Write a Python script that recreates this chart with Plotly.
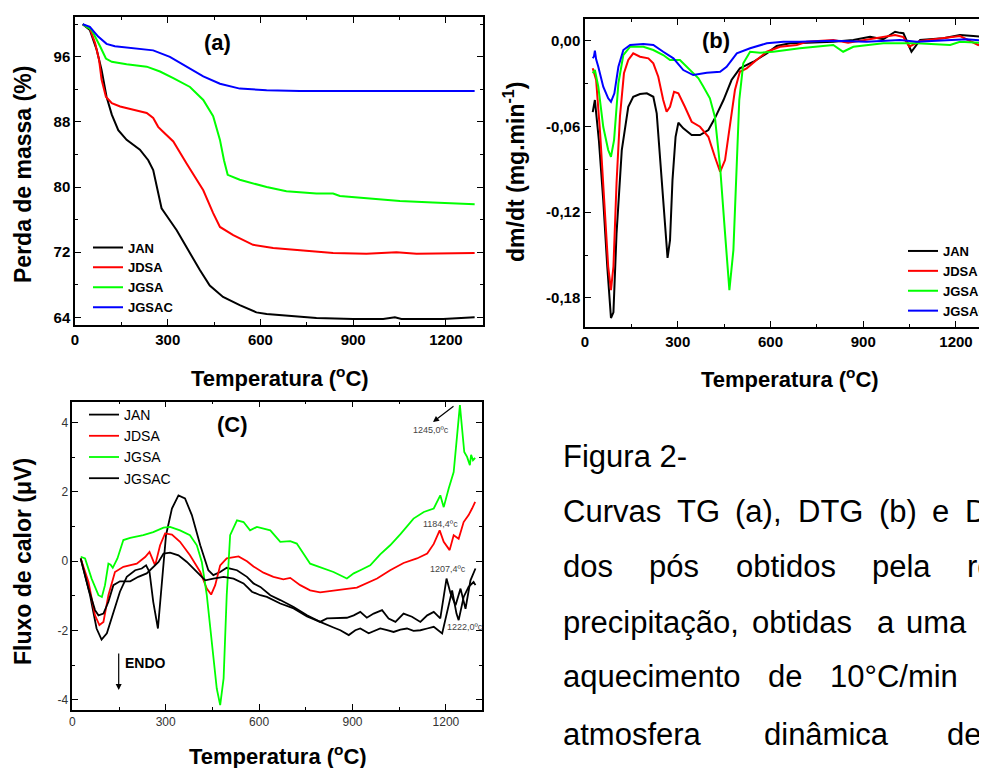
import plotly.graph_objects as go

# page body has an 8px margin, so the figure is drawn 8px smaller and everything is offset by 8px
OFF = 8
W, H = 979, 760

# ---------------- (a) TG data ----------------
tg_jan_t = [25, 48, 70, 86, 102, 119, 140, 167, 210, 237, 253, 264, 280, 296, 329, 361, 404, 436, 479, 533,
            587, 620, 684, 781, 900, 997, 1035, 1056, 1191, 1245, 1293]
tg_jan_v = [100.0, 99.3, 96.9, 94.4, 91.1, 88.9, 87.0, 85.8, 84.6, 83.3, 82.1, 80.0, 77.4, 76.5, 74.7, 72.6,
            69.8, 67.9, 66.5, 65.5, 64.6, 64.4, 64.2, 63.9, 63.8, 63.8, 64.0, 63.8, 63.8, 63.9, 64.0]
tg_jdsa_t = [25, 48, 65, 78, 86, 100, 119, 146, 189, 232, 253, 269, 285, 318, 361, 415, 447, 469, 512, 576,
             641, 727, 835, 943, 1040, 1105, 1293]
tg_jdsa_v = [100.0, 99.5, 97.7, 95.6, 93.2, 91.1, 90.3, 89.9, 89.5, 89.1, 88.5, 87.4, 86.8, 85.6, 82.9, 79.6,
             76.8, 75.1, 74.1, 72.9, 72.5, 72.2, 71.9, 71.8, 72.0, 71.8, 71.9]
tg_jgsa_t = [25, 54, 81, 100, 119, 167, 232, 275, 318, 372, 415, 447, 469, 482, 494, 533, 620, 684, 781, 835,
             857, 943, 1051, 1158, 1293]
tg_jgsa_v = [100.0, 99.3, 97.3, 95.8, 95.4, 95.1, 94.8, 94.2, 93.4, 92.3, 90.7, 88.7, 85.8, 83.3, 81.5, 80.9,
             80.0, 79.5, 79.2, 79.2, 78.9, 78.6, 78.3, 78.1, 77.9]
tg_jgsac_t = [25, 48, 75, 102, 129, 189, 253, 307, 361, 415, 469, 533, 620, 727, 1293]
tg_jgsac_v = [100.0, 99.7, 98.5, 97.6, 97.3, 97.1, 96.8, 96.0, 94.8, 93.6, 92.7, 92.1, 91.9, 91.8, 91.8]

# ---------------- (b) DTG data ----------------
dtg_jan_t = [25, 29, 32, 45, 59, 72, 84, 92, 102, 119, 140, 156, 178, 200, 221, 232, 243, 256, 267, 275,
             283, 293, 302, 318, 345, 372, 399, 420, 448, 474, 501, 545, 588, 620, 663, 717, 803, 868, 922, 965,
             1003, 1019, 1030, 1056, 1084, 1159, 1213, 1256, 1300]
dtg_jan_v = [-0.050, -0.045, -0.0415, -0.070, -0.1115, -0.158, -0.194, -0.190, -0.135, -0.0765,
             -0.0462, -0.0392, -0.0373, -0.0368, -0.0392, -0.0508, -0.0812, -0.123, -0.152, -0.1395,
             -0.0975, -0.0672, -0.0574, -0.0613, -0.066, -0.066, -0.0625, -0.0543, -0.0415, -0.0275,
             -0.0193, -0.0147, -0.0088, -0.0037, -0.0018, -0.0014, -0.0007, 0.0005, 0.0028, 0.001,
             0.0063, 0.0055, 0.0052, -0.0077, 0.0005, 0.0017, 0.004, 0.0033, 0.0025]
dtg_jdsa_t = [25, 36, 49, 61, 75, 84, 92, 102, 113, 126, 140, 156, 178, 205, 221, 237, 253, 264, 275, 288,
              302, 323, 345, 372, 399, 420, 437, 453, 469, 485, 501, 523, 555, 588, 631, 685, 717, 803, 851, 905,
              1003, 1030, 1049, 1084, 1213, 1272, 1300]
dtg_jdsa_v = [-0.0193, -0.0275, -0.0648, -0.1115, -0.158, -0.1745, -0.158, -0.0998, -0.0532, -0.0228,
              -0.0135, -0.0088, -0.0112, -0.0123, -0.0158, -0.0252, -0.0415, -0.0497, -0.0462, -0.0357,
              -0.0368, -0.0462, -0.0567, -0.0602, -0.0672, -0.0812, -0.0917, -0.0835, -0.0602, -0.0345,
              -0.0217, -0.0193, -0.0135, -0.0077, -0.0042, -0.003, -0.0007, 0.0005, -0.0014, 0.0005,
              0.004, 0.0025, -0.0042, -0.0002, 0.0033, -0.003, 0.001]
dtg_jgsa_t = [25, 32, 43, 59, 75, 84, 94, 108, 124, 146, 189, 221, 253, 275, 307, 340, 367, 383, 404, 420,
              437, 453, 467, 480, 491, 499, 512, 534, 566, 609, 695, 803, 835, 868, 965, 1073, 1181, 1213, 1300]
dtg_jgsa_v = [-0.0228, -0.0205, -0.0322, -0.0602, -0.0765, -0.0812, -0.0695, -0.0298, -0.010, -0.0042,
              -0.0042, -0.0065, -0.010, -0.0135, -0.0135, -0.0205, -0.0263, -0.0322, -0.0403, -0.0532,
              -0.0882, -0.1348, -0.1745, -0.1465, -0.0882, -0.0415, -0.0158, -0.0077, -0.0084, -0.0077,
              -0.0053, -0.003, -0.0077, -0.0042, -0.0018, -0.0018, -0.003, -0.0007, -0.0018]
dtg_jgsac_t = [25, 29, 32, 36, 43, 59, 75, 84, 95, 108, 124, 146, 189, 221, 253, 286, 318, 350, 394, 437,
               458, 491, 534, 588, 642, 695, 803, 911, 1019, 1073, 1234, 1300]
dtg_jgsac_v = [-0.0123, -0.0110, -0.0070, -0.0130, -0.0182, -0.0322, -0.0403, -0.0427, -0.0368, -0.0182,
               -0.0065, -0.003, -0.0023, -0.003, -0.0077, -0.0123, -0.0205, -0.024, -0.0224, -0.0217,
               -0.0182, -0.0088, -0.0053, -0.0018, -0.0007, -0.0007, 0.0, -0.0007, 0.0005, -0.0007,
               0.001, 0.0]

# ---------------- (c) DTA data ----------------
dta_jan_t = [27, 57, 78, 94, 111, 132, 153, 175, 202, 223, 237, 248, 260, 275, 287, 301, 320, 341, 362, 384,
             411, 437, 453, 475, 496, 529, 561, 582, 604, 636, 668, 711, 754, 796, 818, 850, 882, 904, 925, 946,
             968, 995, 1016, 1038, 1064, 1091, 1118, 1140, 1161, 1182, 1202, 1215, 1231, 1247, 1263, 1279, 1295]
dta_jan_v = [0.08, -0.98, -1.94, -2.26, -2.08, -1.46, -0.88, -0.45, -0.26, -0.21,
             -0.12, -0.31, -1.17, -1.94, -0.60, 0.75, 1.52, 1.90, 1.81, 1.33,
             0.46, -0.26, -0.40, -0.31, -0.19, -0.26, -0.45, -0.64, -0.74, -0.98,
             -1.12, -1.32, -1.56, -1.75, -1.65, -1.63, -1.63, -1.56, -1.46, -1.63,
             -1.51, -1.41, -1.65, -1.75, -1.51, -1.60, -1.75, -1.56, -1.46, -1.65,
             -0.50, -0.93, -1.27, -0.79, -1.37, -0.55, -0.21]
dta_jdsa_t = [27, 52, 73, 87, 100, 116, 137, 164, 207, 234, 248, 266, 282, 298, 320, 346, 378, 411, 432, 446,
              459, 475, 496, 534, 561, 582, 614, 646, 678, 700, 732, 764, 796, 839, 882, 914, 946, 979, 1021, 1064,
              1107, 1140, 1161, 1180, 1193, 1212, 1225, 1241, 1257, 1273, 1284, 1294]
dta_jdsa_v = [0.08, -0.60, -1.56, -1.84, -1.75, -0.98, -0.31, -0.16, -0.07, 0.12,
              0.27, -0.12, 0.46, 0.80, 0.77, 0.56, 0.17, -0.31, -0.79, -0.96,
              -0.69, -0.12, 0.08, 0.14, 0.00, -0.15, -0.33, -0.45, -0.52, -0.48,
              -0.69, -0.84, -0.90, -0.84, -0.80, -0.76, -0.64, -0.50, -0.26, -0.05,
              0.08, 0.22, 0.50, 0.89, 0.56, 0.32, 0.75, 0.65, 1.13, 1.33, 1.52, 1.71]
dta_jgsa_t = [27, 41, 62, 84, 95, 105, 116, 123, 130, 145, 164, 186, 228, 260, 293, 314, 346, 378, 400, 416,
              432, 448, 464, 475, 486, 496, 507, 529, 550, 571, 593, 636, 668, 700, 721, 764, 807, 839, 882, 904,
              925, 957, 989, 1021, 1054, 1096, 1129, 1161, 1182, 1193, 1209, 1225, 1236, 1245, 1252, 1259, 1268,
              1277, 1281, 1287, 1294]
dta_jgsa_v = [0.13, 0.08, -0.50, -0.98, -1.03, -0.69, -0.07, -0.10, -0.19, 0.08,
              0.61, 0.67, 0.75, 0.84, 0.97, 0.99, 0.89, 0.75, 0.46, -0.02,
              -0.98, -2.42, -3.67, -4.15, -3.38, -0.98, 0.75, 1.18, 1.13, 0.89,
              0.99, 0.89, 0.56, 0.58, 0.51, -0.07, -0.21, -0.31, -0.50, -0.35,
              -0.26, -0.12, 0.20, 0.46, 0.78, 1.23, 1.42, 1.52, 1.90, 1.56,
              2.10, 2.57, 3.63, 4.50, 3.82, 3.15, 3.01, 2.77, 3.07, 2.91, 2.98]
dta_jgsac_t = [27, 52, 73, 84, 100, 116, 132, 153, 186, 212, 239, 260, 277, 293, 314, 341, 368, 400, 427, 453,
               486, 518, 550, 577, 604, 625, 668, 711, 754, 796, 818, 839, 861, 888, 909, 925, 952, 973, 989, 1011,
               1032, 1054, 1075, 1096, 1118, 1140, 1161, 1188, 1204, 1220, 1234, 1241, 1257, 1273, 1289, 1295]
dta_jgsac_v = [0.08, -0.79, -1.41, -1.56, -1.51, -1.17, -0.69, -0.58, -0.58, -0.45,
               -0.35, -0.16, -0.02, 0.22, 0.25, 0.17, -0.02, -0.31, -0.55, -0.50,
               -0.45, -0.50, -0.64, -0.88, -0.98, -1.03, -1.22, -1.36, -1.59, -1.75,
               -1.84, -1.91, -1.99, -2.13, -1.99, -1.94, -2.08, -1.99, -1.94, -1.99,
               -2.04, -1.97, -1.94, -2.01, -1.99, -1.94, -1.89, -2.08, -1.41, -0.84,
               -1.51, -1.70, -1.03, -0.74, -0.60, -0.69]

series_names = ["JAN", "JDSA", "JGSA", "JGSAC"]

# tick labels
x_tickvals = [0, 300, 600, 900, 1200]
tg_tickvals = [64, 72, 80, 88, 96]
dtg_tickvals = [0.0, -0.06, -0.12, -0.18]
dtg_ticktext = ["0,00", "-0,06", "-0,12", "-0,18"]
dta_tickvals = [-4, -2, 0, 2, 4]
dta_ticktext = ["-4", "-2", "0", "2", "4"]

# caption text (justified words)
caption_lines = [
    ["Figura 2-"],
    ["Curvas", "TG", "(a),", "DTG", "(b)", "e", "DTA"],
    ["dos", "pós", "obtidos", "pela", "rota"],
    ["precipitação,", "obtidas", "a", "uma", "taxa"],
    ["aquecimento", "de", "10°C/min", "em"],
    ["atmosfera", "dinâmica", "de"],
]

# ---------------- styling / layout ----------------
FONT = "Arial, Liberation Sans, sans-serif"
col_a = {"JAN": "#000000", "JDSA": "#ff0000", "JGSA": "#00ff00", "JGSAC": "#0000ff"}
col_c = {"JAN": "#000000", "JDSA": "#ff0000", "JGSA": "#00ff00", "JGSAC": "#000000"}


def px_x(p):
    return (p - OFF) / W


def px_y(p):
    return 1 - (p - OFF) / H


fig = go.Figure()

tg = {"JAN": (tg_jan_t, tg_jan_v), "JDSA": (tg_jdsa_t, tg_jdsa_v),
      "JGSA": (tg_jgsa_t, tg_jgsa_v), "JGSAC": (tg_jgsac_t, tg_jgsac_v)}
dtg = {"JAN": (dtg_jan_t, dtg_jan_v), "JDSA": (dtg_jdsa_t, dtg_jdsa_v),
       "JGSA": (dtg_jgsa_t, dtg_jgsa_v), "JGSAC": (dtg_jgsac_t, dtg_jgsac_v)}
dta = {"JAN": (dta_jan_t, dta_jan_v), "JDSA": (dta_jdsa_t, dta_jdsa_v),
       "JGSA": (dta_jgsa_t, dta_jgsa_v), "JGSAC": (dta_jgsac_t, dta_jgsac_v)}

for n in series_names:
    t, v = tg[n]
    fig.add_trace(go.Scatter(x=t, y=v, name=n, mode="lines", xaxis="x", yaxis="y", legend="legend",
                             line=dict(color=col_a[n], width=2)))
for n in series_names:
    t, v = dtg[n]
    fig.add_trace(go.Scatter(x=t, y=v, name=n, mode="lines", xaxis="x2", yaxis="y2", legend="legend2",
                             line=dict(color=col_a[n], width=2)))
for n in series_names:
    t, v = dta[n]
    fig.add_trace(go.Scatter(x=t, y=v, name=n, mode="lines", xaxis="x3", yaxis="y3", legend="legend3",
                             line=dict(color=col_c[n], width=1.8)))

base_ax = dict(showgrid=False, zeroline=False, showline=True, linecolor="black", linewidth=1.5,
               ticks="inside", ticklen=6, tickwidth=1.2, tickcolor="black")
bold_tick = dict(family=FONT, size=15, color="black", weight="bold")
reg_tick = dict(family=FONT, size=12, color="#333333")
minor_x = dict(tick0=0, dtick=150, ticks="inside", ticklen=3, tickwidth=1.2, tickcolor="black")

fig.update_layout(
    width=W, height=H,
    margin=dict(l=0, r=0, t=0, b=0, autoexpand=False),
    paper_bgcolor="white", plot_bgcolor="white",
    font=dict(family=FONT, color="black"),
    xaxis=dict(base_ax, domain=[px_x(75), px_x(483)], range=[0, 1320], anchor="y", mirror="ticks",
               tickmode="array", tickvals=x_tickvals, tickfont=bold_tick, minor=minor_x),
    yaxis=dict(base_ax, domain=[px_y(325), px_y(17)], range=[63.05, 100.9], anchor="x", mirror="ticks",
               tickmode="array", tickvals=tg_tickvals, tickfont=bold_tick,
               minor=dict(tick0=64, dtick=4, ticks="inside", ticklen=3, tickwidth=1.2, tickcolor="black")),
    xaxis2=dict(base_ax, domain=[px_x(585), 1.0], range=[0, 1300.3], anchor="y2", mirror="ticks",
                tickmode="array", tickvals=x_tickvals, tickfont=bold_tick, minor=minor_x),
    yaxis2=dict(base_ax, domain=[px_y(327), px_y(19)], range=[-0.2003, 0.0152], anchor="x2", mirror=False,
                tickmode="array", tickvals=dtg_tickvals, ticktext=dtg_ticktext, tickfont=bold_tick,
                minor=dict(tick0=-0.03, dtick=0.06, ticks="inside", ticklen=3, tickwidth=1.2, tickcolor="black")),
    xaxis3=dict(base_ax, domain=[px_x(72.3), px_x(481.7)], range=[0, 1315], anchor="y3", mirror="ticks",
                tickmode="array", tickvals=x_tickvals, tickfont=reg_tick, minor=minor_x),
    yaxis3=dict(base_ax, domain=[px_y(710), px_y(401.7)], range=[-4.29, 4.6], anchor="x3", mirror="ticks",
                tickmode="array", tickvals=dta_tickvals, ticktext=dta_ticktext, tickfont=reg_tick,
                minor=dict(tick0=-3, dtick=2, ticks="inside", ticklen=3, tickwidth=1.2, tickcolor="black")),
    legend=dict(x=px_x(88), y=px_y(232.5), xanchor="left", yanchor="top", bgcolor="rgba(0,0,0,0)",
                font=dict(family=FONT, size=13, color="black", weight="bold"), tracegroupgap=0),
    legend2=dict(x=px_x(903), y=px_y(236), xanchor="left", yanchor="top", bgcolor="rgba(0,0,0,0)",
                 font=dict(family=FONT, size=13, color="black", weight="bold"), tracegroupgap=0),
    legend3=dict(x=px_x(84), y=px_y(399), xanchor="left", yanchor="top", bgcolor="rgba(0,0,0,0)",
                 font=dict(family=FONT, size=14, color="black"), tracegroupgap=0),
)

ann = []


def label(text, cx, cy, size, bold=True, angle=0, color="black", xanchor="center"):
    ann.append(dict(text=text, x=px_x(cx), y=px_y(cy), xref="paper", yref="paper", showarrow=False,
                    xanchor=xanchor, yanchor="middle", textangle=angle,
                    font=dict(family=FONT, size=size, color=color, weight="bold" if bold else "normal")))


# axis titles
label("Perda de massa (%)", 23, 175, 23, angle=-90)
label("Temperatura (<sup>o</sup>C)", 280, 377, 22)
label("dm/dt (mg.min<sup>-1</sup>)", 514, 172, 23, angle=-90)
label("Temperatura (<sup>o</sup>C)", 790, 378, 22)
label("Fluxo de calor (μV)", 23, 562, 23, angle=-90)
label("Temperatura (<sup>o</sup>C)", 278, 755, 22)
# panel labels
label("(a)", 217, 42, 22)
label("(b)", 716, 40, 22)
label("(C)", 232, 424, 22)
# peak annotations in (c)
label("1245,0ºc", 431, 430, 9, bold=False, color="#444444")
label("1184,4ºc", 440, 524, 9, bold=False, color="#444444")
label("1207,4ºc", 448, 569, 9, bold=False, color="#444444")
label("1222,0ºc", 465, 627, 9, bold=False, color="#444444")
label("ENDO", 123, 663, 14, xanchor="left")

# arrows
ann.append(dict(text="", x=px_x(118.7), y=px_y(690), xref="paper", yref="paper", showarrow=True,
                ax=0, ay=-38, arrowhead=2, arrowsize=1, arrowwidth=1.2, arrowcolor="black"))
ann.append(dict(text="", x=px_x(433), y=px_y(422), xref="paper", yref="paper", showarrow=True,
                ax=22, ay=-17, arrowhead=2, arrowsize=1, arrowwidth=1.2, arrowcolor="black"))

# caption word placement (layout only)
caption_word_x = [[561], [561, 675, 733, 796, 877, 930, 963], [561, 647, 734, 870, 965],
                  [561, 750, 875, 904, 977], [561, 766, 828, 980], [561, 762, 945]]
caption_baseline = [467, 522, 577, 633, 687, 745]
for words, xs, bl in zip(caption_lines, caption_word_x, caption_baseline):
    for wtxt, wx in zip(words, xs):
        label(wtxt, wx, bl - 10.8, 31, bold=False, xanchor="left")

fig.update_layout(annotations=ann)
fig.write_html("out.html")
